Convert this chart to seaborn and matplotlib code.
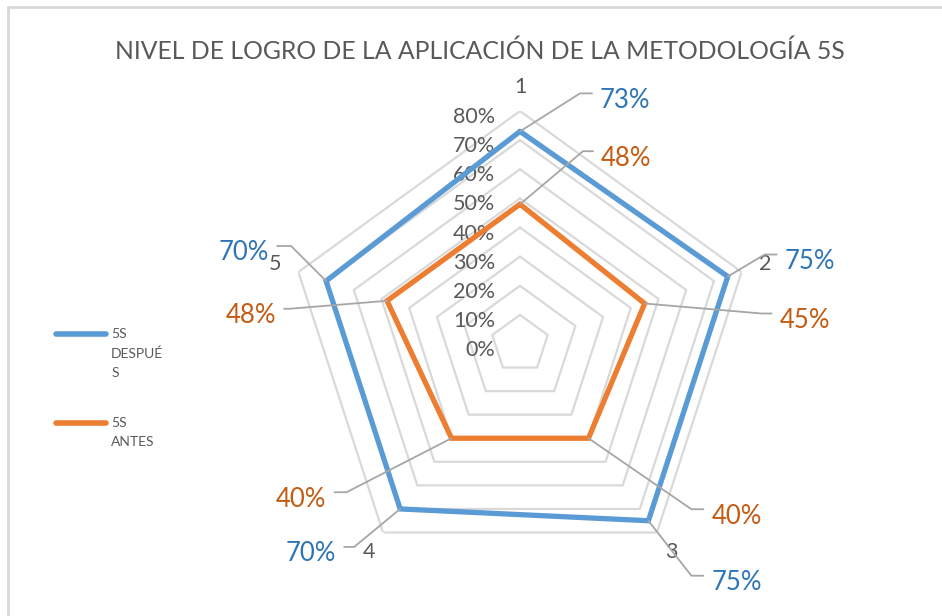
import numpy as np
import matplotlib
matplotlib.use("Agg")
import matplotlib.pyplot as plt
import seaborn as sns
from matplotlib.lines import Line2D

sns.set_style("white")
plt.rcParams["font.family"] = ["Lato", "DejaVu Sans"]

categories = ["1", "2", "3", "4", "5"]
despues = [0.73, 0.75, 0.75, 0.70, 0.70]
antes = [0.48, 0.45, 0.40, 0.40, 0.48]
ring_levels = [0.1, 0.2, 0.3, 0.4, 0.5, 0.6, 0.7, 0.8]
tick_levels = [0.0, 0.1, 0.2, 0.3, 0.4, 0.5, 0.6, 0.7, 0.8]

BLUE, ORANGE = "#5b9bd5", "#ed7d31"
BLUE_TXT, ORANGE_TXT = "#2e75b6", "#c55a11"
GREY_TXT = "#595959"

# leader lines: (elbow dx, elbow dy, arm length) in pixels, y up
blue_leaders = [(60, 38, 12), (37, 22, 12), (43, -55, 12), (-46, -38, -10), (-35, 35, -14)]
orange_leaders = [(63, 53, 10), (117, -10, 10), (103, -71, 12), (-105, -54, -12), (-98, -8, -5)]

W, H = 942, 616
cx, cy, R = 520, 344, 233
fig = plt.figure(figsize=(W / 100, H / 100), dpi=100)
ax = fig.add_axes([(cx - R) / W, (H - cy - R) / H, 2 * R / W, 2 * R / H], projection="polar")

angles = np.linspace(0, 2 * np.pi, len(categories), endpoint=False)
closed = np.append(angles, angles[0])
ax.set_theta_offset(np.pi / 2)
ax.set_theta_direction(-1)
ax.set_ylim(0, 0.8)
ax.grid(False)
ax.spines["polar"].set_visible(False)
ax.set_yticks([])
ax.set_xticks(angles, categories)
ax.tick_params(axis="x", pad=7, labelsize=15.5, labelcolor=GREY_TXT)

for r in ring_levels:
    ax.plot(closed, [r] * len(closed), color="#d9d9d9", lw=1.6, zorder=1)

for r in tick_levels:
    ax.annotate(f"{r:.0%}", xy=(0, r), xytext=(-25, -6), textcoords="offset pixels",
                ha="right", va="center", fontsize=15.5, color=GREY_TXT)

ax.plot(closed, np.append(despues, despues[0]), color=BLUE, lw=3.8, zorder=3,
        label="\n\n5S\nDESPUÉ\nS", solid_joinstyle="miter")
ax.plot(closed, np.append(antes, antes[0]), color=ORANGE, lw=3.8, zorder=3,
        label="\n5S\nANTES", solid_joinstyle="miter")

fig.canvas.draw()


def leader(theta, r, spec, text, color):
    px, py = ax.transData.transform((theta, r))
    ex, ey, arm = spec
    xs = [px, px + ex, px + ex + arm]
    ys = [py, py + ey, py + ey]
    fig.add_artist(Line2D(xs, ys, transform=None, color="#a6a6a6", lw=1.3, zorder=4))
    gap = 8 if arm > 0 else -8
    fig.text(xs[-1] + gap, ys[-1] - 7, text, transform=None, fontsize=18.5, color=color,
             ha="left" if arm > 0 else "right", va="center")


for th, v, spec in zip(angles, despues, blue_leaders):
    leader(th, v, spec, f"{v:.0%}", BLUE_TXT)
for th, v, spec in zip(angles, antes, orange_leaders):
    leader(th, v, spec, f"{v:.0%}", ORANGE_TXT)

fig.text(480 / W, 1 - 51 / H, "NIVEL DE LOGRO DE LA APLICACIÓN DE LA METODOLOGÍA 5S",
         ha="center", va="center", fontsize=17.8, color=GREY_TXT)

leg = fig.legend(loc="upper left", bbox_to_anchor=(43 / W, 1 - 276 / H), frameon=False,
                 fontsize=10, labelcolor=GREY_TXT, handlelength=3.6, handletextpad=0.4,
                 labelspacing=1.3)
for t in leg.get_texts():
    t.set_linespacing(1.75)
for h in leg.get_lines():
    h.set_linewidth(4)

# chart area border
fig.add_artist(Line2D([8, W], [H - 7, H - 7], transform=None, color="#d9d9d9", lw=2))
fig.add_artist(Line2D([8, 8], [0, H - 7], transform=None, color="#d9d9d9", lw=2))

fig.savefig("out.png", dpi=100)
